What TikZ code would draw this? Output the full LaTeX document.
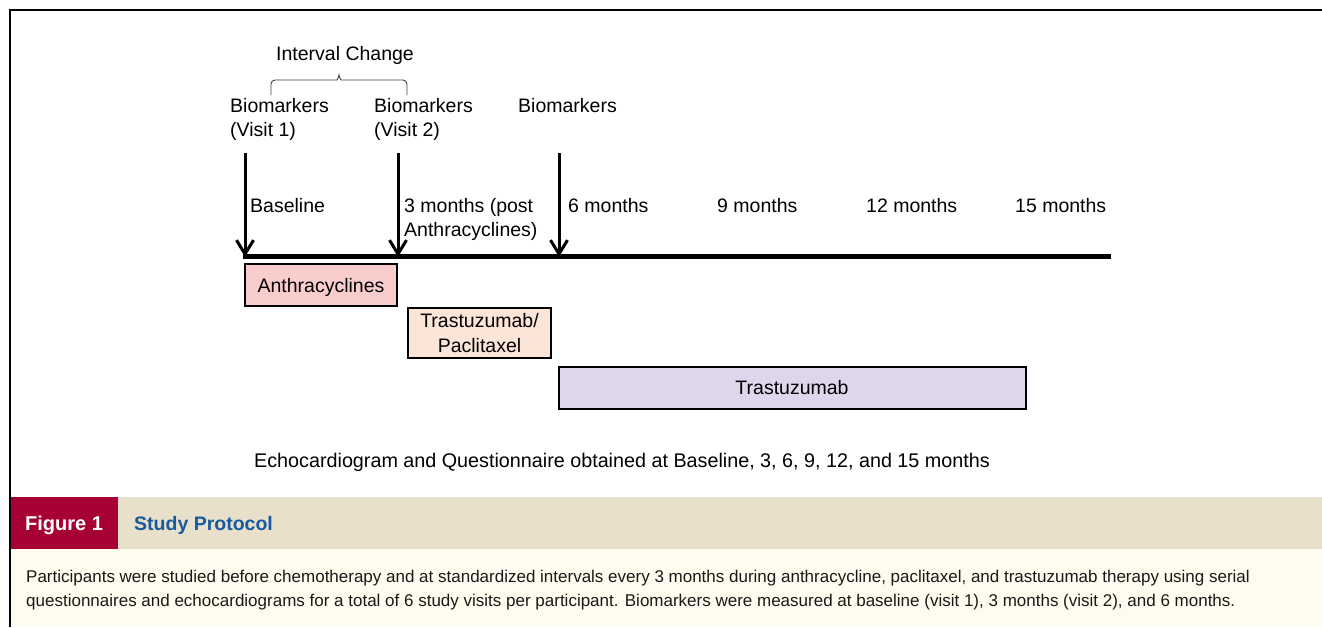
\documentclass[tikz,border=0pt]{standalone}
\usepackage{fontspec}
\setmainfont{Liberation Sans}
\usetikzlibrary{arrows.meta}
\definecolor{figred}{RGB}{166,0,52}
\definecolor{barbeige}{RGB}{232,224,202}
\definecolor{bodycream}{RGB}{254,252,238}
\definecolor{titleblue}{RGB}{22,90,160}
\definecolor{boxpink}{RGB}{250,205,205}
\definecolor{boxpeach}{RGB}{252,228,214}
\definecolor{boxlav}{RGB}{224,214,236}
\tikzset{
  lbl/.style={anchor=base west, inner sep=0pt, font=\fontsize{19.5}{24.5}\selectfont, align=left},
  period/.style={draw=black, line width=2.5pt, inner sep=0pt, font=\fontsize{19.5}{24.5}\selectfont, align=center},
  visitarrow/.style={line width=3pt, -{Straight Barb[length=14pt,width=17pt,line width=3pt]}},
  capt/.style={anchor=base west, inner sep=0pt, font=\fontsize{17}{24}\selectfont, text=black!90, align=left}
}
\begin{document}
\begin{tikzpicture}[x=1pt,y=-1pt]
\useasboundingbox (0,0) rectangle (1322,627);
% frame
\draw[line width=2pt] (9.5,627) -- (9.5,10) -- (1322,10);
% caption bar
\fill[barbeige] (10.5,497) rectangle (1322,549);
\fill[figred] (10.5,497) rectangle (118,549);
\fill[bodycream] (10.5,549) rectangle (1322,627);
\node[anchor=base west, inner sep=0pt, text=white, font=\fontsize{20}{22}\selectfont\bfseries] (fig) at (25,530) {Figure 1};
\node[anchor=base west, inner sep=0pt, text=titleblue, font=\fontsize{19.5}{22}\selectfont\bfseries] (title) at (134,530) {Study Protocol};
\node[capt] (cap1) at (26,582) {Participants were studied before chemotherapy and at standardized intervals every 3 months during anthracycline, paclitaxel, and trastuzumab therapy using serial};
\node[capt] (cap2) at (26,606) {questionnaires and echocardiograms for a total of 6 study visits per participant. Biomarkers were measured at baseline (visit 1), 3 months (visit 2), and 6 months.};

% top labels
\node[lbl] (interval) at (276,60) {Interval Change};
\node[lbl] (bio1) at (230,136.5) {Biomarkers\\(Visit 1)};
\node[lbl] (bio2) at (374,136.5) {Biomarkers\\(Visit 2)};
\node[lbl] (bio3) at (518,112) {Biomarkers};
% brace
\coordinate (brL) at (271,95);
\coordinate (brR) at (407,95);
\coordinate (brT) at (339,71);
\draw[line width=0.9pt, black!75, rounded corners=4pt] (brL) -- (271,80) -- (333,80) .. controls (337,80) and (339,77) .. (brT) .. controls (339,77) and (341,80) .. (345,80) -- (407,80) -- (brR);

% timeline
\coordinate (tl0) at (243,256.5);
\coordinate (tl1) at (1111,256.5);
\draw[line width=5pt] (tl0) -- (tl1);
\coordinate (a1s) at (245,153);
\coordinate (a2s) at (398,153);
\coordinate (a3s) at (559,153);
\coordinate (a1e) at (245,257);
\coordinate (a2e) at (398,257);
\coordinate (a3e) at (559,257);
\draw[visitarrow] (a1s) -- (a1e);
\draw[visitarrow] (a2s) -- (a2e);
\draw[visitarrow] (a3s) -- (a3e);

% time labels
\node[lbl] (m0) at (250,212) {Baseline};
\node[lbl] (m3) at (404,236.5) {3 months (post\\Anthracyclines)};
\node[lbl] (m6) at (568,212) {6 months};
\node[lbl] (m9) at (717,212) {9 months};
\node[lbl] (m12) at (866,212) {12 months};
\node[lbl] (m15) at (1015,212) {15 months};

% therapy boxes
\node[period, fill=boxpink, minimum width=152pt, minimum height=42pt, text depth=0pt] (anth) at (321,285) {Anthracyclines};
\node[period, fill=boxpeach, minimum width=143pt, minimum height=50pt] (tp) at (479.5,333) {Trastuzumab/\\Paclitaxel};
\node[period, fill=boxlav, line width=2pt, minimum width=467pt, minimum height=42pt] (tras) at (792,387.5) {Trastuzumab};

\node[anchor=base, inner sep=0pt, font=\fontsize{19.75}{24}\selectfont] (echo) at (622,467) {Echocardiogram and Questionnaire obtained at Baseline, 3, 6, 9, 12, and 15 months};
\end{tikzpicture}
\end{document}
